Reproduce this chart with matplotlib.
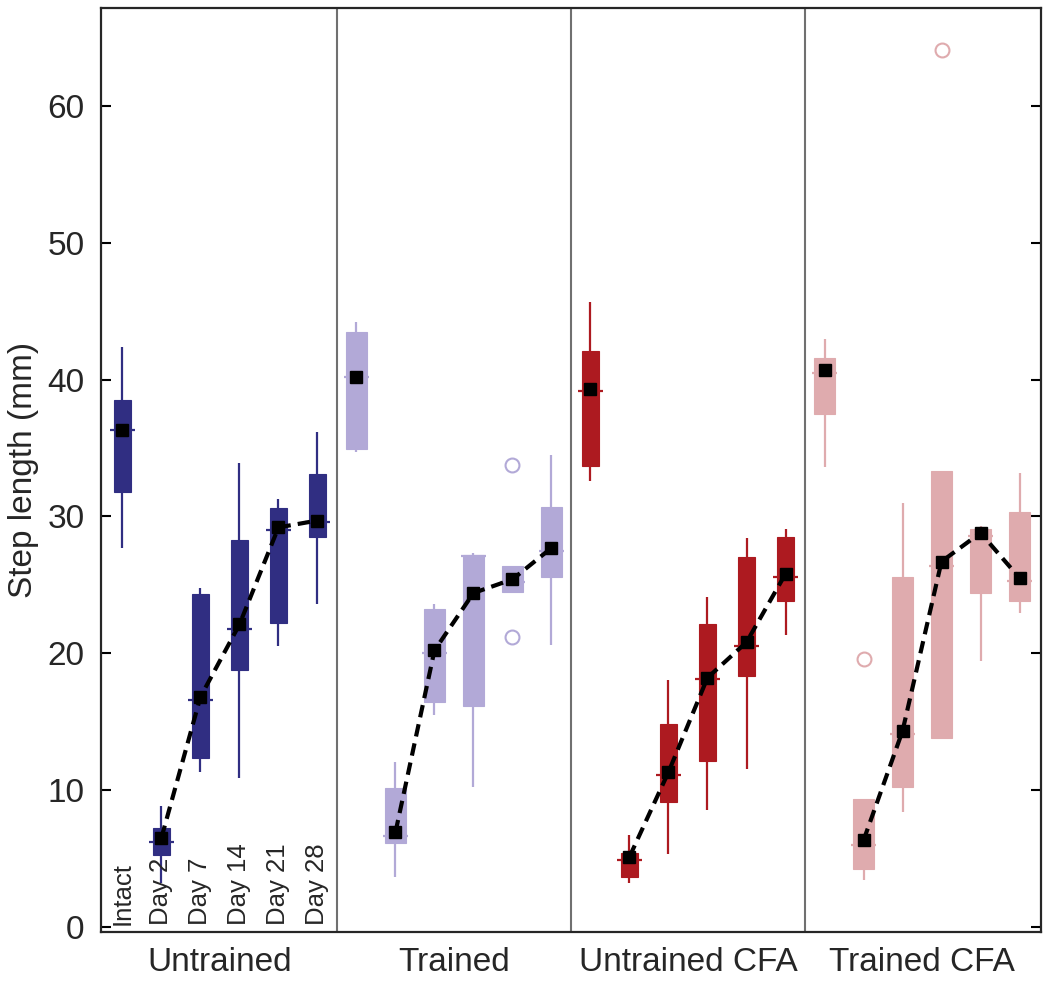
import numpy as np
import matplotlib
matplotlib.use("Agg")
from matplotlib import pyplot as plt

GROUPS = ["Untrained", "Trained", "Untrained CFA", "Trained CFA"]
DAYS = ["Intact", "Day 2", "Day 7", "Day 14", "Day 21", "Day 28"]
COLORS = ["#302e82", "#b2a9d7", "#ad1a20", "#dfabae"]

# one row per group, one column per day
whislo = [
    [27.7, 3.2, 11.3, 10.9, 20.5, 23.6],
    [34.7, 3.6, 15.5, 10.2, 24.5, 20.6],
    [32.6, 3.2, 5.3, 8.5, 11.5, 21.3],
    [33.6, 3.4, 8.4, 13.7, 19.4, 22.9],
]
q1 = [
    [31.8, 5.2, 12.3, 18.8, 22.2, 28.5],
    [34.9, 6.1, 16.4, 16.1, 24.5, 25.6],
    [33.7, 3.6, 9.1, 12.1, 18.3, 23.8],
    [37.5, 4.2, 10.2, 13.8, 24.4, 23.8],
]
median = [
    [36.3, 6.2, 16.6, 21.8, 29.0, 29.6],
    [40.2, 6.6, 20.0, 27.1, 25.2, 27.5],
    [39.2, 4.9, 11.1, 18.1, 20.5, 25.6],
    [40.5, 6.0, 14.1, 26.4, 28.6, 25.3],
]
q3 = [
    [38.5, 7.2, 24.3, 28.3, 30.6, 33.1],
    [43.5, 10.1, 23.2, 27.2, 26.4, 30.7],
    [42.1, 5.4, 14.8, 22.1, 27.0, 28.5],
    [41.6, 9.3, 25.6, 33.3, 29.1, 30.3],
]
whishi = [
    [42.4, 8.8, 24.8, 33.9, 31.3, 36.2],
    [44.2, 12.0, 23.6, 27.3, 26.4, 34.5],
    [45.7, 6.7, 18.0, 24.1, 28.4, 29.1],
    [43.0, 9.3, 31.0, 33.3, 29.3, 33.2],
]
means = [
    [36.3, 6.5, 16.8, 22.1, 29.2, 29.7],
    [40.2, 6.9, 20.2, 24.4, 25.4, 27.7],
    [39.3, 5.1, 11.3, 18.2, 20.8, 25.8],
    [40.7, 6.3, 14.3, 26.7, 28.8, 25.5],
]
# (group, day, value)
outliers = [(1, 4, 33.8), (1, 4, 21.2), (3, 1, 19.6), (3, 3, 64.1)]

TEXT = "#262626"
FS = 24

fig = plt.figure(figsize=(10.5, 9.83), dpi=100)
ax = fig.add_axes([0.0962, 0.0519, 0.8952, 0.94])

n_days = len(DAYS)
for g in range(len(GROUPS)):
    x = np.arange(n_days) + 1 + g * n_days
    color = COLORS[g]
    width = 0.44 if g in (0, 2) else 0.54
    lo, hi = np.array(q1[g]), np.array(q3[g])
    ax.vlines(x, whislo[g], whishi[g], color=color, lw=1.6, zorder=2)
    ax.bar(x, hi - lo, bottom=lo, width=width, color=color,
           edgecolor=color, lw=0.8, zorder=3)
    ax.hlines(median[g], x - 0.31, x + 0.31, color=color, lw=1.6, zorder=2)
    ax.plot(x[1:], means[g][1:], ls=(0, (3, 1.7)), color="black",
            lw=3.0, zorder=4)
    ax.plot(x, means[g], ls="none", marker="s", ms=8, color="black",
            zorder=5)
    if g > 0:
        ax.axvline(g * n_days + 0.5, color="#707070", lw=1.5, zorder=1)

for g, d, v in outliers:
    ax.plot(g * n_days + d + 1, v, ls="none", marker="o", ms=10,
            mfc="none", mec=COLORS[g], mew=1.5, zorder=5)

for d, label in enumerate(DAYS):
    ax.text(d + 1, 0.1, label, rotation=90, ha="center", va="bottom",
            fontsize=18.5, color=TEXT, family="Liberation Sans")

ax.set_xlim(0.45, 24.55)
ax.set_ylim(-0.4, 67.2)
ax.set_yticks(range(0, 61, 10))
ax.set_xticks(np.arange(len(GROUPS)) * n_days + 3.5)
ax.set_xticklabels(GROUPS)
ax.tick_params(axis="x", length=0, pad=11, labelsize=FS, labelcolor=TEXT)
ax.tick_params(axis="y", direction="in", length=7, width=1.5, right=True,
               labelsize=FS, labelcolor=TEXT, pad=12)
for lab in ax.get_xticklabels() + ax.get_yticklabels():
    lab.set_family("Liberation Sans")
ax.set_ylabel("Step length (mm)", fontsize=FS, color=TEXT,
              family="Liberation Sans", labelpad=6)
for side in ax.spines.values():
    side.set_linewidth(1.6)
    side.set_color(TEXT)

fig.savefig("out.png", dpi=100)
